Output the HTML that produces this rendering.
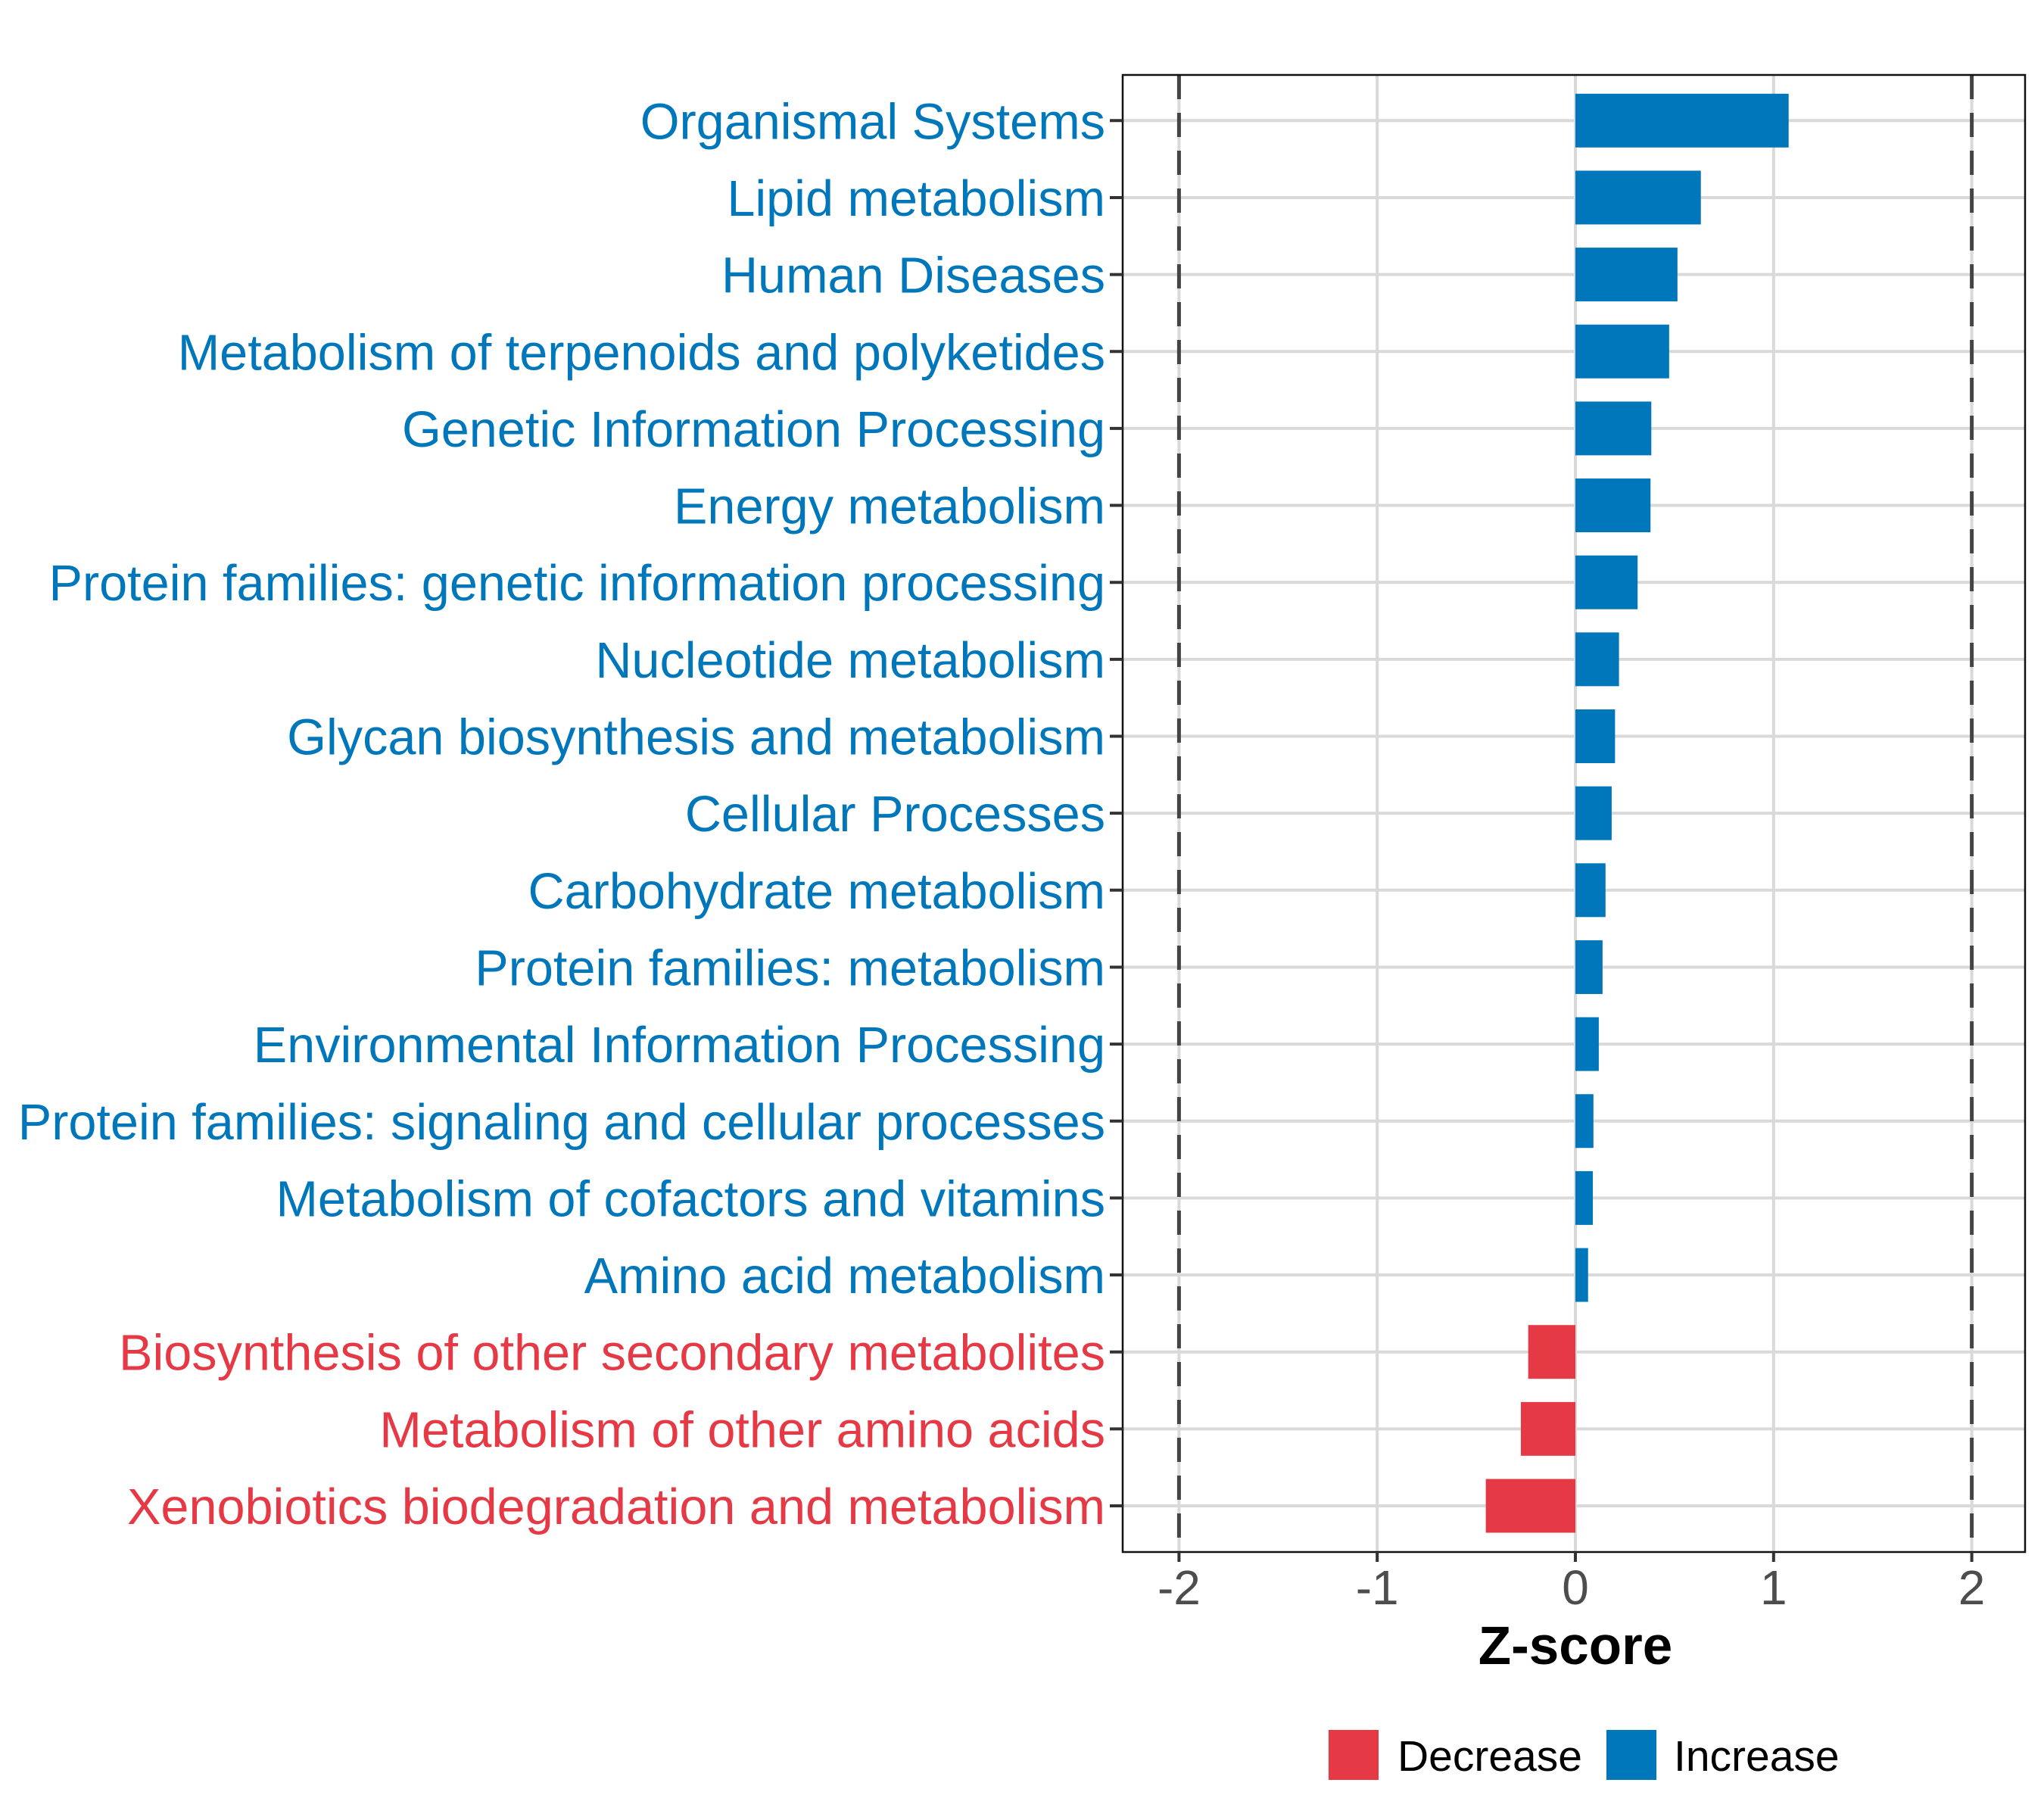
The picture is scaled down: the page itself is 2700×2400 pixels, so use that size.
<!DOCTYPE html>
<html><head><meta charset="utf-8"><style>html,body{margin:0;padding:0;background:#fff}svg{display:block}</style></head>
<body>
<svg id="chart" width="2700" height="2400" xmlns="http://www.w3.org/2000/svg" font-family="Liberation Sans, Arial, sans-serif"></svg>
<script>
const categories = ["Organismal Systems","Lipid metabolism","Human Diseases","Metabolism of terpenoids and polyketides","Genetic Information Processing","Energy metabolism","Protein families: genetic information processing","Nucleotide metabolism","Glycan biosynthesis and metabolism","Cellular Processes","Carbohydrate metabolism","Protein families: metabolism","Environmental Information Processing","Protein families: signaling and cellular processes","Metabolism of cofactors and vitamins","Amino acid metabolism","Biosynthesis of other secondary metabolites","Metabolism of other amino acids","Xenobiotics biodegradation and metabolism"];
const zscores = [1.076,0.633,0.515,0.473,0.383,0.379,0.314,0.22,0.20,0.183,0.152,0.137,0.118,0.091,0.088,0.064,-0.238,-0.275,-0.452];
const xTicks = [-2,-1,0,1,2];
const thresholds = [-2,2];
const legendLabels = ["Decrease","Increase"];

const NS="http://www.w3.org/2000/svg";
const svg=document.getElementById('chart');
const P={l:1483,r:2675,t:99,b:2050};
const BLUE="#0077BB", RED="#E63946";
const xs=v=>2081+v*261.8;
const ys=i=>159.3+i*101.65;
const barH=71;
function mk(tag,attrs,parent){const e=document.createElementNS(NS,tag);for(const k in attrs)e.setAttribute(k,attrs[k]);(parent||svg).appendChild(e);return e;}

const grid=mk('g',{});


xTicks.forEach(t=>{const l=mk('line',{x1:xs(t),x2:xs(t),y1:P.t,y2:P.b,stroke:'#d9d9d9','stroke-width':4},grid);

});
categories.forEach((c,i)=>{const l=mk('line',{x1:P.l,x2:P.r,y1:ys(i),y2:ys(i),stroke:'#d9d9d9','stroke-width':4},grid);

});

const bars=mk('g',{});


zscores.forEach((v,i)=>{const x0=Math.min(xs(0),xs(v)),w=Math.abs(xs(v)-xs(0));
const r=mk('rect',{x:x0,y:ys(i)-barH/2,width:w,height:barH,fill:v<0?RED:BLUE},bars);

});

thresholds.forEach(t=>{const l=mk('line',{x1:xs(t),x2:xs(t),y1:P.t,y2:P.b,stroke:'#444','stroke-width':5,'stroke-dasharray':'32,18'});

});

const frame=mk('rect',{x:P.l,y:P.t,width:P.r-P.l,height:P.b-P.t,fill:'none',stroke:'#111','stroke-width':2.5});



categories.forEach((c,i)=>{
const tk=mk('line',{x1:P.l-17,x2:P.l,y1:ys(i),y2:ys(i),stroke:'#333','stroke-width':4});


const t=mk('text',{x:1460,y:ys(i)+24,'text-anchor':'end','font-size':66.6,fill:zscores[i]<0?RED:BLUE});
t.textContent=c;

});

xTicks.forEach(v=>{
const tk=mk('line',{x1:xs(v),x2:xs(v),y1:P.b,y2:P.b+13,stroke:'#333','stroke-width':4});


const t=mk('text',{x:xs(v),y:2119,'text-anchor':'middle','font-size':64,fill:'#4d4d4d'});
t.textContent=v;

});

const xt=mk('text',{x:xs(0),y:2198,'text-anchor':'middle','font-size':71,'font-weight':'bold',fill:'#000'});
xt.textContent='Z-score';



const lg=mk('g',{});


const keyX=[1755,2122], textX=[1846,2211];
legendLabels.forEach((lab,i)=>{
const r=mk('rect',{x:keyX[i],y:2285,width:66,height:66,fill:i===0?RED:BLUE},lg);


const t=mk('text',{x:textX[i],y:2339,'font-size':57,fill:'#000'},lg);
t.textContent=lab;

});
</script>
</body></html>
